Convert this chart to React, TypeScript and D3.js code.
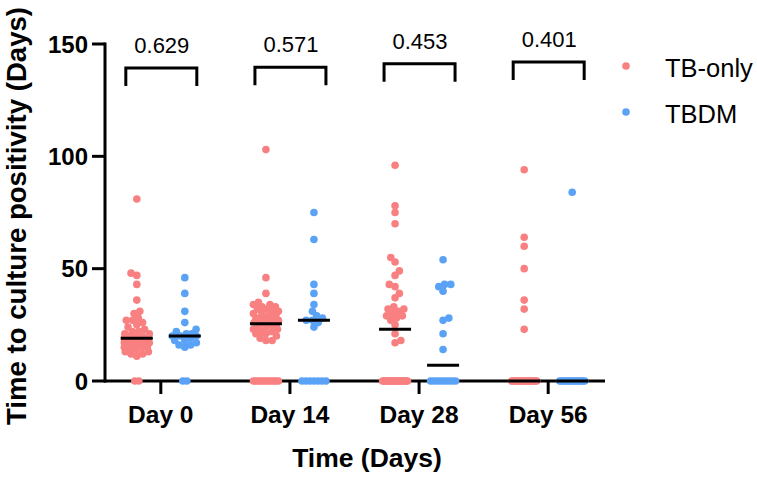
import React from "react";
import * as d3 from "d3";

// ---------- data ----------
const days = ["Day 0", "Day 14", "Day 28", "Day 56"];
const seriesNames = ["TB-only", "TBDM"];
const seriesColors = ["#F98080", "#5AA2F5"];
const pValues = ["0.629", "0.571", "0.453", "0.401"];
const bracketLevels = [139.3, 139.6, 141.2, 142];
const yTicks = [0, 50, 100, 150];

const zeros = (n: number) => Array(n).fill(0);

const tbOnlyDay0 = [81, 48, 47, 43, 36, 31, 30, 28, 27, 27, 26, 25, 24, 23, 22, 22, 21, 21, 20, 20, 20, 19, 19, 19, 19, 18, 18, 18, 18, 17, 17, 17, 16, 16, 16, 15, 15, 15, 14, 14, 13, 13, 12, 12, 11, ...zeros(2)];
const tbOnlyDay14 = [103, 46, 39, 35, 34, 34, 33, 33, 32, 32, 31, 31, 30, 30, 29, 29, 28, 28, 28, 27, 27, 27, 26, 26, 26, 26, 25, 25, 24, 24, 23, 23, 22, 22, 21, 21, 20, 19, 18, 18, ...zeros(12)];
const tbOnlyDay28 = [96, 78, 75, 70, 55, 53, 49, 47, 43, 42, 39, 37, 33, 32, 32, 31, 30, 29, 29, 28, 27, 25, 21, 18, 17, ...zeros(19)];
const tbOnlyDay56 = [94, 64, 60, 50, 36, 32, 23, ...zeros(20)];

const tbdmDay0 = [46, 39, 31, 26, 23, 22, 21, 21, 20, 20, 20, 19, 18, 18, 17, 16, 16, 15, ...zeros(2)];
const tbdmDay14 = [75, 63, 43, 39, 34, 31, 29, 28, 27, 27, 26, 24, ...zeros(7)];
const tbdmDay28 = [54, 43, 43, 42, 40, 28, 27, 21, 14, ...zeros(9)];
const tbdmDay56 = [84, ...zeros(15)];

const tbOnly = [tbOnlyDay0, tbOnlyDay14, tbOnlyDay28, tbOnlyDay56];
const tbdm = [tbdmDay0, tbdmDay14, tbdmDay28, tbdmDay56];
const series = [tbOnly, tbdm];

// ---------- layout ----------
const W = 757;
const H = 481;
const FONT = "'Liberation Sans', Arial, Helvetica, sans-serif";
const R = 3.8;
const D = 6.2;
const MAXW = 12.5;
const GROUP_OFF = 24;

const x = d3.scalePoint<string>().domain(days).range([104, 605]).padding(0.44);
const y = d3.scaleLinear().domain([0, 150]).range([381, 44]);

function swarm(vals: number[]): { v: number; dx: number }[] {
  const out: { v: number; dx: number }[] = [];
  const zs = vals.filter((v) => v === 0);
  const nz = vals.filter((v) => v !== 0).sort((a, b) => a - b);
  const nzc = zs.length;
  const s = nzc > 1 ? Math.min(4, (2 * MAXW) / (nzc - 1)) : 0;
  zs.forEach((v, i) => out.push({ v, dx: (i - (nzc - 1) / 2) * s }));
  const placed: { py: number; dx: number }[] = [];
  let side = 1;
  nz.forEach((v) => {
    const py = y(v);
    const ivs: [number, number][] = [];
    placed.forEach((q) => {
      const dy = Math.abs(q.py - py);
      if (dy < D) {
        const w = Math.sqrt(D * D - dy * dy);
        ivs.push([q.dx - w, q.dx + w]);
      }
    });
    const cands = [0];
    ivs.forEach(([a, b]) => cands.push(a, b));
    const ok = (c: number) => ivs.every(([a, b]) => c <= a + 1e-6 || c >= b - 1e-6);
    let best: number | null = null;
    cands.filter(ok).forEach((c) => {
      if (best === null || Math.abs(c) < Math.abs(best) - 1e-6) best = c;
      else if (Math.abs(Math.abs(c) - Math.abs(best)) < 1e-6 && Math.sign(c) === side) best = c;
    });
    let dx: number;
    if (best !== null && Math.abs(best) <= MAXW) {
      dx = best;
      if (dx !== 0) side = -Math.sign(dx);
    } else {
      let bestScore = -1;
      dx = 0;
      for (let c = -MAXW; c <= MAXW + 1e-9; c += 0.5) {
        let m = Infinity;
        placed.forEach((q) => {
          const d = Math.hypot(q.dx - c, q.py - py);
          if (d < m) m = d;
        });
        if (m > bestScore) {
          bestScore = m;
          dx = c;
        }
      }
    }
    placed.push({ py, dx });
    out.push({ v, dx });
  });
  return out;
}

export default function App() {
  const groups = days.flatMap((day, di) =>
    series.map((ser, si) => {
      const vals = ser[di];
      const cx = (x(day) as number) + (si === 0 ? -GROUP_OFF : GROUP_OFF);
      return { day, si, cx, pts: swarm(vals), med: d3.median(vals) as number };
    })
  );

  return (
    <svg
      width={W}
      height={H}
      style={{ position: "absolute", left: 0, top: 0, background: "#fff" }}
      fontFamily={FONT}
    >
      {/* axes */}
      <line x1={105} x2={105} y1={y(150) - 1.5} y2={y(0) + 1.5} stroke="#000" strokeWidth={3} />
      <line x1={104} x2={605} y1={y(0)} y2={y(0)} stroke="#000" strokeWidth={3} />
      {yTicks.map((t) => (
        <g key={t}>
          <line x1={92} x2={105} y1={y(t)} y2={y(t)} stroke="#000" strokeWidth={3} />
          <text
            x={88}
            y={y(t)}
            textAnchor="end"
            dominantBaseline="central"
            fontSize={24}
            fontWeight="bold"
          >
            {t}
          </text>
        </g>
      ))}
      {days.map((d) => (
        <g key={d}>
          <line x1={x(d)} x2={x(d)} y1={y(0)} y2={y(0) + 13} stroke="#000" strokeWidth={3} />
          <text x={x(d)} y={423} textAnchor="middle" fontSize={24.5} fontWeight="bold">
            {d}
          </text>
        </g>
      ))}
      <text x={367} y={467} textAnchor="middle" fontSize={26.5} fontWeight="bold">
        Time (Days)
      </text>
      <text
        transform={`translate(26,216) rotate(-90)`}
        textAnchor="middle"
        fontSize={27.6}
        fontWeight="bold"
      >
        Time to culture positivity (Days)
      </text>

      {/* points */}
      {groups.map((g, gi) => (
        <g key={gi}>
          {g.pts.map((p, pi) => (
            <circle key={pi} cx={g.cx + p.dx} cy={y(p.v)} r={R} fill={seriesColors[g.si]} />
          ))}
        </g>
      ))}
      {/* medians */}
      {groups.map((g, gi) => (
        <line
          key={"m" + gi}
          x1={g.cx - 16}
          x2={g.cx + 16}
          y1={y(g.med)}
          y2={y(g.med)}
          stroke="#000"
          strokeWidth={3}
        />
      ))}

      {/* brackets and p-values */}
      {days.map((d, i) => {
        const cx = x(d) as number;
        const top = y(bracketLevels[i]);
        return (
          <g key={"b" + d}>
            <path
              d={`M${cx - 35},${top + 18}V${top}H${cx + 36}V${top + 18}`}
              fill="none"
              stroke="#000"
              strokeWidth={3}
            />
            <text x={cx + 1} y={top - 15} textAnchor="middle" fontSize={22}>
              {pValues[i]}
            </text>
          </g>
        );
      })}

      {/* legend */}
      {seriesNames.map((n, i) => (
        <g key={n}>
          <circle cx={626} cy={66 + i * 46} r={R} fill={seriesColors[i]} />
          <text x={665} y={77 + i * 46} fontSize={25.5}>
            {n}
          </text>
        </g>
      ))}
    </svg>
  );
}
